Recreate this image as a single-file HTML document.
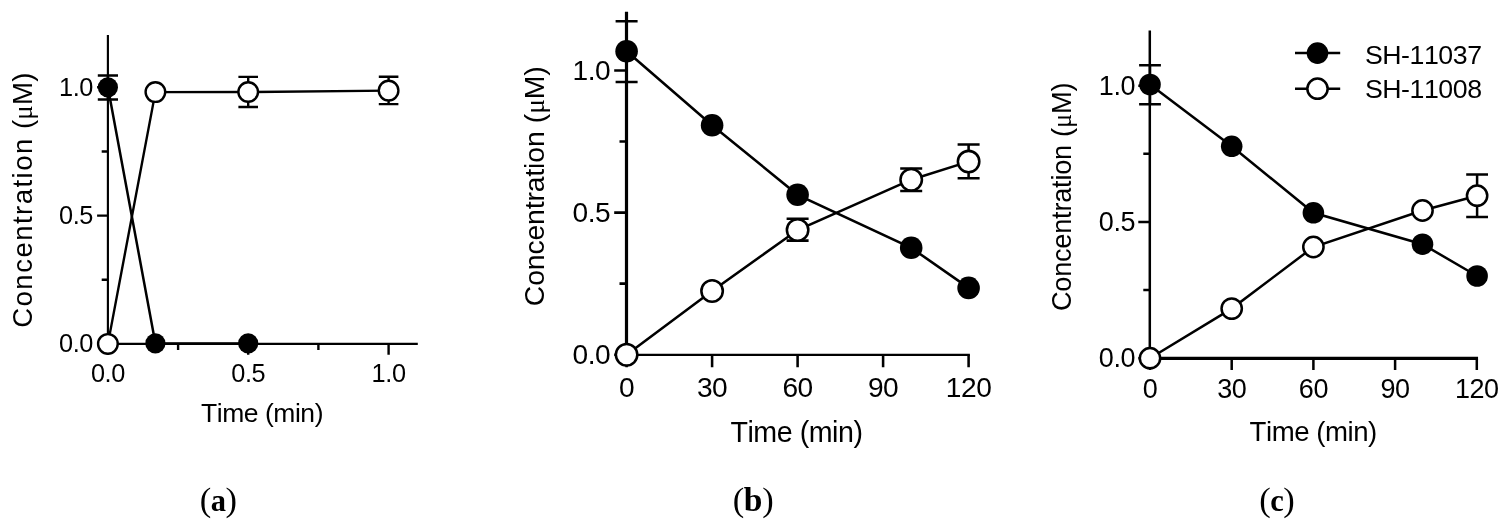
<!DOCTYPE html>
<html lang="en">
<head>
<meta charset="utf-8">
<title>Concentration vs. time</title>
<style>
html,body{margin:0;padding:0;background:#fff}
body{width:1501px;height:526px;overflow:hidden}
svg{display:block}
text{white-space:pre;font-kerning:none}
</style>
</head>
<body>
<svg width="1501" height="526" viewBox="0 0 1501 526">
<rect width="1501" height="526" fill="#fff"/>
<g stroke="#000" stroke-width="2.4" fill="none" stroke-linecap="butt">
<path stroke-width="2.15" d="M107.9 35V345.1"/>
<path stroke-width="2.4" d="M106.83 343.9H417.8"/>
<path d="M107.9 87.3H97.1M107.9 215.6H97.1M107.9 343.9H97.1M107.9 151.5H101.7M107.9 279.8H101.7M107.9 343.9V354.7M248.2 343.9V354.7M388.6 343.9V354.7M178.1 343.9V350.1M318.4 343.9V350.1"/>
</g>
<g stroke="#000" stroke-width="2.5">
<polyline fill="none" points="107.9,87.3 155.4,343.4 248.2,343.4"/>
<path fill="none" d="M107.9 75.4V99.4M97.8 75.4H118M97.8 99.4H118"/>
<circle cx="107.9" cy="87.3" r="10.1" fill="#000" stroke="none"/>
<circle cx="155.4" cy="343.4" r="10.1" fill="#000" stroke="none"/>
<circle cx="248.2" cy="343.4" r="10.1" fill="#000" stroke="none"/>
</g>
<g stroke="#000" stroke-width="2.4">
<polyline fill="none" points="107.9,343.9 155.4,92.1 248.2,92 388.6,90.6"/>
<path fill="none" d="M248.2 76.9V107M238.4 76.9H258M238.4 107H258M388.6 76.8V104.1M378.8 76.8H398.4M378.8 104.1H398.4"/>
<circle cx="107.9" cy="343.9" r="9.8" fill="#fff"/>
<circle cx="155.4" cy="92.1" r="9.8" fill="#fff"/>
<circle cx="248.2" cy="92" r="9.8" fill="#fff"/>
<circle cx="388.6" cy="90.6" r="9.8" fill="#fff"/>
</g>
<g font-family='"Liberation Sans", Arial, sans-serif' font-size="25.34" letter-spacing="-0.42" fill="#000">
<text x="93" y="95.8" text-anchor="end">1.0</text>
<text x="93" y="224.1" text-anchor="end">0.5</text>
<text x="93" y="352.4" text-anchor="end">0.0</text>
<text x="107.9" y="381.7" text-anchor="middle">0.0</text>
<text x="248.2" y="381.7" text-anchor="middle">0.5</text>
<text x="388.6" y="381.7" text-anchor="middle">1.0</text>
<text x="262" y="422" text-anchor="middle" font-size="26.47" letter-spacing="-0.44">Time (min)</text>
<text transform="translate(32 327.8) rotate(-90)" font-size="27.6"><tspan letter-spacing="1.44">Concentration</tspan><tspan x="190.8" letter-spacing="0.24"> (<tspan font-family='"Liberation Serif", serif' font-size="26.8">μ</tspan>M)</tspan></text>
</g>
<text x="218.2" y="510.6" text-anchor="middle" font-family='"Liberation Serif", serif' font-size="34.5" letter-spacing="-0.5" fill="#000">(<tspan font-weight="bold" font-size="30.5">a</tspan>)</text>
<g stroke="#000" stroke-width="2.55" fill="none" stroke-linecap="butt">
<path stroke-width="3.2" d="M626.5 11.8V356.1"/>
<path stroke-width="2.3" d="M624.9 354.95H969.9"/>
<path d="M626.5 70.5H614.2M626.5 212.6H614.2M626.5 354.7H614.2M626.5 141.5H619.5M626.5 283.6H619.5M626.6 354.95V367.25M712.1 354.95V367.25M797.6 354.95V367.25M883.1 354.95V367.25M968.6 354.95V367.25"/>
</g>
<g stroke="#000" stroke-width="2.55">
<polyline fill="none" points="626.6,51.2 712.1,125.2 797.6,194.8 911.2,247.8 968.6,287.9"/>
<path fill="none" d="M626.6 21.2V82M615.6 21.2H637.6M615.6 82H637.6"/>
<circle cx="626.6" cy="51.2" r="11.3" fill="#000" stroke="none"/>
<circle cx="712.1" cy="125.2" r="11.3" fill="#000" stroke="none"/>
<circle cx="797.6" cy="194.8" r="11.3" fill="#000" stroke="none"/>
<circle cx="911.2" cy="247.8" r="11.3" fill="#000" stroke="none"/>
<circle cx="968.6" cy="287.9" r="11.3" fill="#000" stroke="none"/>
</g>
<g stroke="#000" stroke-width="2.55">
<polyline fill="none" points="626.6,354.7 712.1,291 797.6,230 911.2,179.7 968.6,161.6"/>
<path fill="none" d="M797.6 218.7V240.6M786.6 218.7H808.6M786.6 240.6H808.6M911.2 168.4V191M900.2 168.4H922.2M900.2 191H922.2M968.6 144.5V178.3M957.6 144.5H979.6M957.6 178.3H979.6"/>
<circle cx="626.6" cy="354.7" r="10.72" fill="#fff"/>
<circle cx="712.1" cy="291" r="10.72" fill="#fff"/>
<circle cx="797.6" cy="230" r="10.72" fill="#fff"/>
<circle cx="911.2" cy="179.7" r="10.72" fill="#fff"/>
<circle cx="968.6" cy="161.6" r="10.72" fill="#fff"/>
</g>
<g font-family='"Liberation Sans", Arial, sans-serif' font-size="28.12" letter-spacing="-0.46" fill="#000">
<text x="610.2" y="79.9" text-anchor="end">1.0</text>
<text x="610.2" y="222" text-anchor="end">0.5</text>
<text x="610.2" y="364.1" text-anchor="end">0.0</text>
<text x="626.6" y="397.1" text-anchor="middle">0</text>
<text x="712.1" y="397.1" text-anchor="middle">30</text>
<text x="797.6" y="397.1" text-anchor="middle">60</text>
<text x="883.1" y="397.1" text-anchor="middle">90</text>
<text x="968.6" y="397.1" text-anchor="middle">120</text>
<text x="796.5" y="441.7" text-anchor="middle" font-size="28.63" letter-spacing="-0.47">Time (min)</text>
<text transform="translate(543.8 306.2) rotate(-90)" font-size="28.32"><tspan letter-spacing="-0.12">Concentration</tspan><tspan x="175.2" letter-spacing="-0.07"> (<tspan font-family='"Liberation Serif", serif' font-size="27.5">μ</tspan>M)</tspan></text>
</g>
<text x="753" y="510.6" text-anchor="middle" font-family='"Liberation Serif", serif' font-size="34.5" letter-spacing="-0.3" fill="#000">(<tspan font-weight="bold" font-size="33.5">b</tspan>)</text>
<g stroke="#000" stroke-width="2.5" fill="none" stroke-linecap="butt">
<path stroke-width="2.5" d="M1149.8 30.4V360"/>
<path stroke-width="3.2" d="M1148.55 358.4H1478.05"/>
<path d="M1149.8 85.7H1138.3M1149.8 222H1138.3M1149.8 358.2H1138.3M1149.8 153.8H1143.3M1149.8 290.1H1143.3M1150 358.4V369.9M1231.7 358.4V369.9M1313.4 358.4V369.9M1395.1 358.4V369.9M1476.8 358.4V369.9"/>
</g>
<g stroke="#000" stroke-width="2.5">
<polyline fill="none" points="1150,84.5 1231.7,146.3 1313.4,212.8 1422.5,244.2 1477.1,276"/>
<path fill="none" d="M1150 65.3V104.2M1139.1 65.3H1160.9M1139.1 104.2H1160.9"/>
<circle cx="1150" cy="84.5" r="10.8" fill="#000" stroke="none"/>
<circle cx="1231.7" cy="146.3" r="10.8" fill="#000" stroke="none"/>
<circle cx="1313.4" cy="212.8" r="10.8" fill="#000" stroke="none"/>
<circle cx="1422.5" cy="244.2" r="10.8" fill="#000" stroke="none"/>
<circle cx="1477.1" cy="276" r="10.8" fill="#000" stroke="none"/>
</g>
<g stroke="#000" stroke-width="2.5">
<polyline fill="none" points="1150,358.2 1231.7,308.6 1313.4,247 1422.5,210.5 1477.1,195.7"/>
<path fill="none" d="M1477.1 174.5V217M1466.2 174.5H1488M1466.2 217H1488"/>
<circle cx="1150" cy="358.2" r="10.15" fill="#fff"/>
<circle cx="1231.7" cy="308.6" r="10.15" fill="#fff"/>
<circle cx="1313.4" cy="247" r="10.15" fill="#fff"/>
<circle cx="1422.5" cy="210.5" r="10.15" fill="#fff"/>
<circle cx="1477.1" cy="195.7" r="10.15" fill="#fff"/>
</g>
<g font-family='"Liberation Sans", Arial, sans-serif' font-size="26.99" letter-spacing="-0.45" fill="#000">
<text x="1135" y="94.9" text-anchor="end">1.0</text>
<text x="1135" y="231.2" text-anchor="end">0.5</text>
<text x="1135" y="367.4" text-anchor="end">0.0</text>
<text x="1150" y="398.4" text-anchor="middle">0</text>
<text x="1231.7" y="398.4" text-anchor="middle">30</text>
<text x="1313.4" y="398.4" text-anchor="middle">60</text>
<text x="1395.1" y="398.4" text-anchor="middle">90</text>
<text x="1476.8" y="398.4" text-anchor="middle">120</text>
<text x="1313.2" y="440.9" text-anchor="middle" font-size="27.6" letter-spacing="-0.46">Time (min)</text>
<text transform="translate(1070.9 311.1) rotate(-90)" font-size="27.19"><tspan letter-spacing="-0.25">Concentration</tspan><tspan x="166.7" letter-spacing="-0.15"> (<tspan font-family='"Liberation Serif", serif' font-size="26.4">μ</tspan>M)</tspan></text>
</g>
<text x="1276.8" y="510.6" text-anchor="middle" font-family='"Liberation Serif", serif' font-size="34.5" letter-spacing="-0.5" fill="#000">(<tspan font-weight="bold" font-size="30.5">c</tspan>)</text>
<g stroke="#000" stroke-width="2.5">
<path d="M1295 53.1H1340.2M1295 88.7H1340.2" fill="none"/>
<circle cx="1317.5" cy="53.1" r="10.8" fill="#000" stroke="none"/>
<circle cx="1317.5" cy="88.7" r="10.15" fill="#fff"/>
</g>
<g font-family='"Liberation Sans", Arial, sans-serif' font-size="26.7" letter-spacing="-0.44" fill="#000">
<text x="1364.9" y="63.5">SH-11037</text>
<text x="1364.9" y="98.4">SH-11008</text>
</g>
</svg>
</body>
</html>
